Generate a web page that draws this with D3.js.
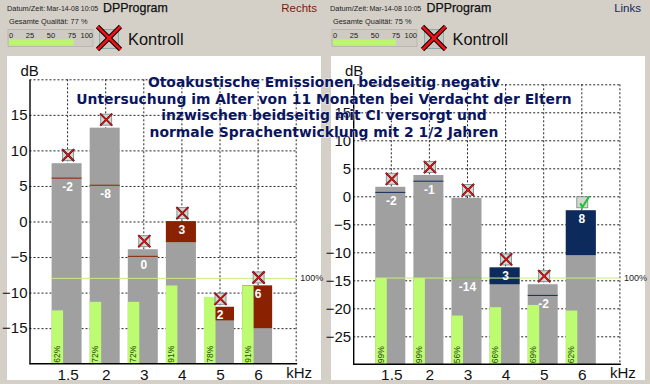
<!DOCTYPE html>
<html><head><meta charset="utf-8">
<script src="https://cdn.jsdelivr.net/npm/d3@7"></script>
<style>
html,body{margin:0;padding:0;background:#d4d0c8}
svg{display:block}
text{font-family:"Liberation Sans",Arial,sans-serif}
</style></head><body>
<svg id="c" width="650" height="384"></svg>
<script>
const freqs = ["1.5","2","3","4","5","6"];
const overlayLines = [
  "Otoakustische Emissionen beidseitig negativ",
  "Untersuchung im Alter von 11 Monaten bei Verdacht der Eltern",
  "inzwischen beidseitig mit CI versorgt und",
  "normale Sprachentwicklung mit 2 1/2 Jahren"
];
const progressTicks = [0,25,50,75,100];

const ticksL = [15,10,5,0,-5,-10,-15];
const ampL   = [8.2,13.2,-3.9,0.05,-12,-9];
const noiseL = [6.1,5.1,-4.9,-2.9,-13.9,-15];
const snrL   = [-2,-8,0,3,2,6];
const qualL  = [-12.5,-11.3,-11.3,-9,-10.6,-9];
const pctL   = ["62%","72%","72%","91%","78%","91%"];
const okL    = [0,0,0,0,0,0];

const ticksR = [15,10,5,0,-5,-10,-15,-20,-25];
const ampR   = [1.7,3.8,-0.3,-12.7,-15.7,-2.5];
const noiseR = [0.7,2.7,-14.6,-15.7,-17.7,-10.5];
const snrR   = [-2,-1,-14,3,-2,8];
const qualR  = [-14.6,-14.6,-21.3,-19.8,-19.4,-20.4];
const pctR   = ["99%","99%","56%","66%","69%","62%"];
const okR    = [0,0,0,0,0,1];

const svg = d3.select("#c");
svg.append("rect").attr("width",650).attr("height",384).attr("fill","#d4d0c8");

function cross(g,cx,cy,r,w,o){
  const segs=[[-1,-1,1,1],[-1,1,1,-1]];
  segs.forEach(d=>{
    g.append("line").attr("x1",cx+d[0]*r).attr("y1",cy+d[1]*r).attr("x2",cx+d[2]*r).attr("y2",cy+d[3]*r)
      .attr("stroke","#000").attr("stroke-width",w+o);
  });
  segs.forEach(d=>{
    g.append("line").attr("x1",cx+d[0]*r).attr("y1",cy+d[1]*r).attr("x2",cx+d[2]*r).attr("y2",cy+d[3]*r)
      .attr("stroke","#f01018").attr("stroke-width",w);
  });
}

function panel(o){
  const g = svg.append("g");
  const xo = o.x0;
  g.append("rect").attr("x",o.bgX).attr("y",56).attr("width",314).attr("height",324).attr("fill","#fff");
  // header
  const small=(t,x,y)=>g.append("text").attr("x",x).attr("y",y).attr("font-size",7.4).attr("fill","#222").text(t);
  small("Datum/Zeit:",o.hdr.date,11);
  g.append("text").attr("x",o.hdr.date+39.5).attr("y",11).attr("font-size",7).attr("fill","#222").text(o.stamp);
  g.append("text").attr("x",o.hdr.prog).attr("y",12).attr("font-size",12.4).attr("fill","#111").attr("stroke","#111").attr("stroke-width",.25).text("DPProgram");
  g.append("text").attr("x",o.hdr.sideEnd).attr("y",12).attr("text-anchor","end").attr("font-size",11.5).attr("fill",o.sideColor).text(o.side);
  small("Gesamte Qualität:  "+o.qual+" %",o.hdr.q,24);
  const bx = d3.scaleLinear().domain([0,100]).range([o.hdr.q,o.hdr.q+84]);
  g.append("rect").attr("x",bx(0)-1).attr("y",29.5).attr("width",85).attr("height",17).attr("fill","#cfcbc3").attr("stroke","#aaa").attr("stroke-width",.6);
  g.append("rect").attr("x",bx(0)).attr("y",39.5).attr("width",bx(o.qual)-bx(0)).attr("height",6).attr("fill","#bdf56e");
  progressTicks.forEach(t=>g.append("text").attr("x",t===0?bx(0):bx(t)).attr("y",37.5)
    .attr("text-anchor",t===0?"start":(t===100?"end":"middle")).attr("font-size",7.5).attr("fill","#222").text(t));
  g.append("rect").attr("x",o.hdr.icon-9.5).attr("y",29.5).attr("width",19).attr("height",19).attr("fill","#c8c8c0").attr("stroke","#8aa").attr("stroke-width",1);
  cross(g,o.hdr.icon,38,11.5,2.6,2);
  g.append("text").attr("x",o.hdr.k).attr("y",44.5).attr("font-size",16.4).attr("fill","#111").text("Kontroll");
  g.append("text").attr("x",o.hdr.db).attr("y",76).attr("font-size",15).attr("fill","#111").text("dB");

  const x = d3.scalePoint().domain(["",...freqs,"end"]).range([xo,xo+38.1*7]);
  const y = d3.scaleLinear().domain(o.dom).range([o.yBot,o.yTop]);
  const xEnd = x("end");

  // grid
  const gridH=[...o.ticks,o.dom[1]];
  g.selectAll(".h").data(gridH).join("line").attr("x1",xo).attr("x2",xEnd).attr("y1",d=>y(d)+.5).attr("y2",d=>y(d)+.5)
    .attr("stroke","#222").attr("stroke-dasharray","2,2");
  g.selectAll(".v").data([...freqs,"end"]).join("line").attr("x1",d=>x(d)).attr("x2",d=>x(d)).attr("y1",o.yTop).attr("y2",o.yBot)
    .attr("stroke","#222").attr("stroke-dasharray","2,2");

  const bw=30, off=-16, gw=11.5;
  const idx=d3.range(freqs.length);
  const cx=i=>x(freqs[i]);
  // bars
  g.selectAll(".b").data(idx).join("rect").attr("x",i=>cx(i)+off).attr("width",bw).attr("y",i=>y(o.amp[i])).attr("height",i=>o.yBot-y(o.amp[i])).attr("fill","#a0a0a0");
  g.selectAll(".f").data(idx.filter(i=>o.snr[i]>0)).join("rect").attr("x",i=>cx(i)+off).attr("width",bw).attr("y",i=>y(o.amp[i])).attr("height",i=>y(o.noise[i])-y(o.amp[i])).attr("fill",o.fill);
  g.selectAll(".l").data(idx.filter(i=>o.snr[i]<=0)).join("line").attr("x1",i=>cx(i)+off).attr("x2",i=>cx(i)+off+bw).attr("y1",i=>y(o.noise[i])).attr("y2",i=>y(o.noise[i])).attr("stroke",o.fill).attr("stroke-width",1);
  g.selectAll(".q").data(idx).join("rect").attr("x",i=>cx(i)+off).attr("width",gw).attr("y",i=>y(o.q[i])).attr("height",i=>o.yBot-y(o.q[i])).attr("fill","#bdfb70");
  // threshold
  g.append("line").attr("x1",cx(0)+off).attr("x2",xEnd).attr("y1",y(o.thr)).attr("y2",y(o.thr)).attr("stroke","#c6f07a").attr("stroke-width",1);
  g.append("text").attr("x",xEnd+4).attr("y",y(o.thr)+2.5).attr("font-size",9).attr("fill","#222").text("100%");
  // pct
  g.selectAll(".p").data(idx).join("text").attr("transform",i=>`translate(${cx(i)+off+8.5},${o.yBot-1}) rotate(-90)`)
    .attr("font-size",8.5).attr("fill","#274a10").text(i=>o.pct[i]);
  // snr labels
  g.selectAll(".s").data(idx).join("text").attr("x",i=>cx(i)).attr("y",i=>y(o.snr[i]>0?o.amp[i]:o.noise[i])+12.5).attr("text-anchor","middle")
    .attr("font-size",12).attr("font-weight","bold").attr("fill","#fff").text(i=>o.snr[i]);
  // axes
  const ay=d3.axisLeft(y).tickValues(o.ticks).tickSize(0).tickPadding(2).tickFormat(d3.format("d"));
  const ag=g.append("g").attr("transform",`translate(${xo},0)`).call(ay);
  ag.select(".domain").attr("stroke","#000").attr("stroke-width",1.4);
  ag.selectAll("text").attr("font-size",15).attr("font-family",'"Liberation Sans",Arial,sans-serif').attr("fill","#111");
  const ax=d3.axisBottom(x).tickValues(freqs).tickSize(0).tickPadding(5);
  const axg=g.append("g").attr("transform",`translate(0,${o.yBot})`).call(ax);
  axg.select(".domain").attr("stroke","#000").attr("stroke-width",1.4);
  axg.selectAll("text").attr("font-size",15.4).attr("font-family",'"Liberation Sans",Arial,sans-serif').attr("fill","#111");
  axg.select(".domain").attr("d",`M${xo},0H${xEnd+1}`);
  g.append("text").attr("x",xEnd-10).attr("y",378).attr("font-size",15).attr("fill","#111").text("kHz");
  // status marks
  idx.forEach(i=>{
    const mx=cx(i)+.5, my=y(o.amp[i])-8;
    g.append("rect").attr("x",mx-5.5).attr("y",my-5.5).attr("width",11).attr("height",11).attr("fill","#d4d8d0").attr("stroke","#6f8585").attr("stroke-width",.8);
    if(o.ok[i]){
      g.append("path").attr("d",`M${mx-2},${my+1}L${mx},${my+5}L${mx+7},${my-6}`).attr("fill","none").attr("stroke","#12c830").attr("stroke-width",2);
    } else cross(g,mx,my,6,1.2,.6);
  });
}

panel({x0:29.5,bgX:7,dom:[-20,20],yBot:363.7,yTop:79.3,ticks:ticksL,amp:ampL,noise:noiseL,snr:snrL,q:qualL,pct:pctL,ok:okL,thr:-8,
  fill:"#8a2100",side:"Rechts",sideColor:"#7c1a0c",qual:77,stamp:"Mar-14-08 10:05",
  hdr:{date:7,prog:103,sideEnd:317,q:9,icon:109,k:128,db:20.5}});
panel({x0:353.2,bgX:331,dom:[-30,20],yBot:364.3,yTop:84.3,ticks:ticksR,amp:ampR,noise:noiseR,snr:snrR,q:qualR,pct:pctR,ok:okR,thr:-14.6,
  fill:"#0c2a5c",side:"Links",sideColor:"#14285c",qual:75,stamp:"Mar-14-08 10:05",
  hdr:{date:330,prog:426.5,sideEnd:641,q:333,icon:434,k:452.5,db:345}});

const ovY=[87.3,103.5,120,136.7];
svg.selectAll(".ov").data(overlayLines).join("text").attr("x",324).attr("y",(d,i)=>ovY[i]).attr("text-anchor","middle")
  .style("font-family",'"DejaVu Sans",Verdana,sans-serif').attr("font-weight","bold").attr("font-size",13.9).attr("fill","#0a1560")
  .attr("stroke","#fff").attr("stroke-width",1.3).attr("stroke-opacity",.5).attr("paint-order","stroke").text(d=>d);
</script>
</body></html>
